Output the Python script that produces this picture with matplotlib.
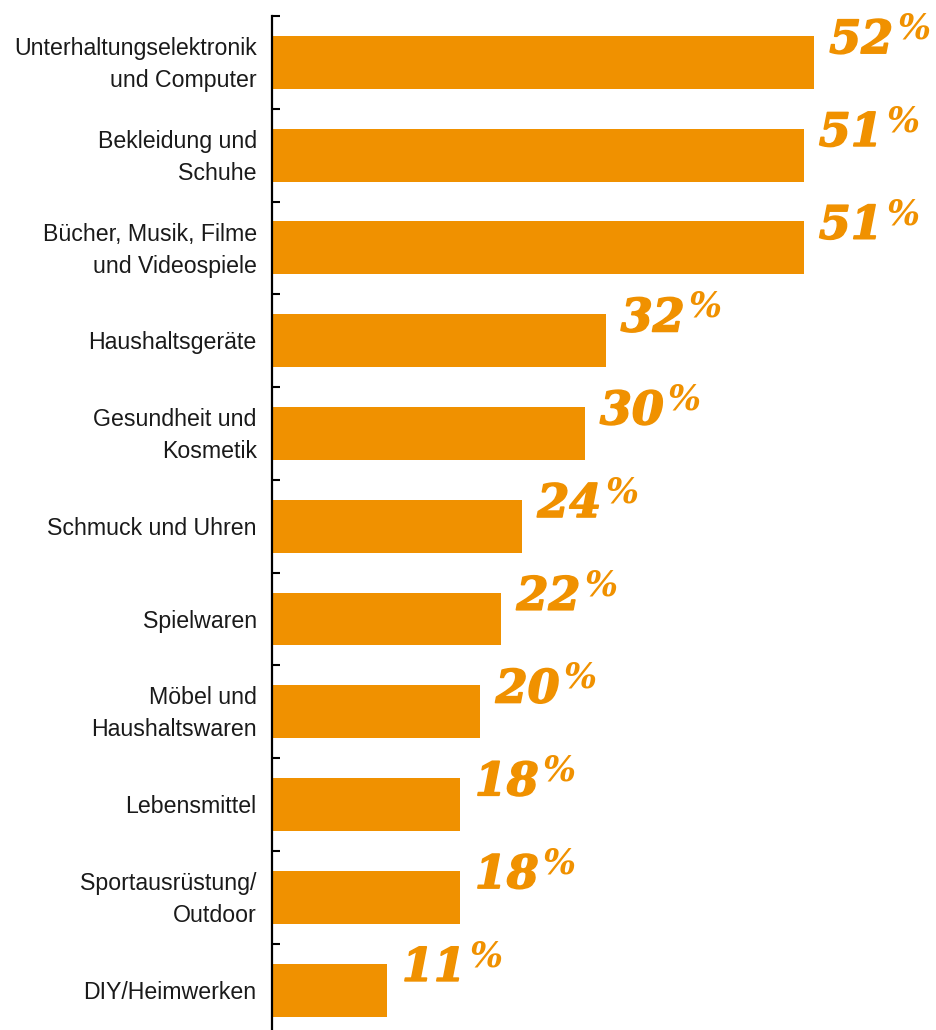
import numpy as np
import matplotlib.pyplot as plt
import matplotlib.patheffects as pe

categories = [
    "Unterhaltungselektronik\nund Computer",
    "Bekleidung und\nSchuhe",
    "Bücher, Musik, Filme\nund Videospiele",
    "Haushaltsgeräte",
    "Gesundheit und\nKosmetik",
    "Schmuck und Uhren",
    "Spielwaren",
    "Möbel und\nHaushaltswaren",
    "Lebensmittel",
    "Sportausrüstung/\nOutdoor",
    "DIY/Heimwerken",
]
shares = [52, 51, 51, 32, 30, 24, 22, 20, 18, 18, 11]

orange = "#F09100"

fig = plt.figure(figsize=(9.36, 10.30), dpi=100)
ax = fig.add_axes([272 / 936, 0, 664 / 936, 1014 / 1030])

y = np.arange(len(categories))
ax.barh(y, shares, height=0.57, color=orange, zorder=2)

ax.set_xlim(0, 63.7)
ax.set_ylim(10.43, -0.5)

# small inward marks between bars, labels drawn separately
ax.set_yticks(np.arange(len(categories)) - 0.5)
ax.set_yticklabels([])
ax.tick_params(axis="y", direction="in", length=5.5, width=1.5)
ax.set_xticks([])

for side in ["top", "right", "bottom"]:
    ax.spines[side].set_visible(False)
ax.spines["left"].set_linewidth(1.6)

for yi, name in zip(y, categories):
    ax.annotate(name, xy=(0, yi), xycoords=("axes fraction", "data"),
                xytext=(-11, -1.5), textcoords="offset points",
                ha="right", va="center", fontsize=16.7,
                family="Liberation Sans", color="#1a1a1a", linespacing=1.5,
                multialignment="right")

bold = [pe.withStroke(linewidth=1.2, foreground=orange)]
for yi, v in zip(y, shares):
    t = ax.annotate(f"{v}", xy=(v, yi - 0.24), xytext=(11, 0),
                    textcoords="offset points", ha="left", va="center",
                    fontsize=33, family="DejaVu Serif", fontweight="bold",
                    fontstyle="italic", color=orange, path_effects=bold)
    ax.annotate("%", xy=(1, 1), xycoords=t, xytext=(3, 4),
                textcoords="offset points", ha="left", va="top",
                fontsize=25, family="DejaVu Serif", fontweight="bold",
                fontstyle="italic", color=orange)

fig.savefig("out.png", dpi=100)
